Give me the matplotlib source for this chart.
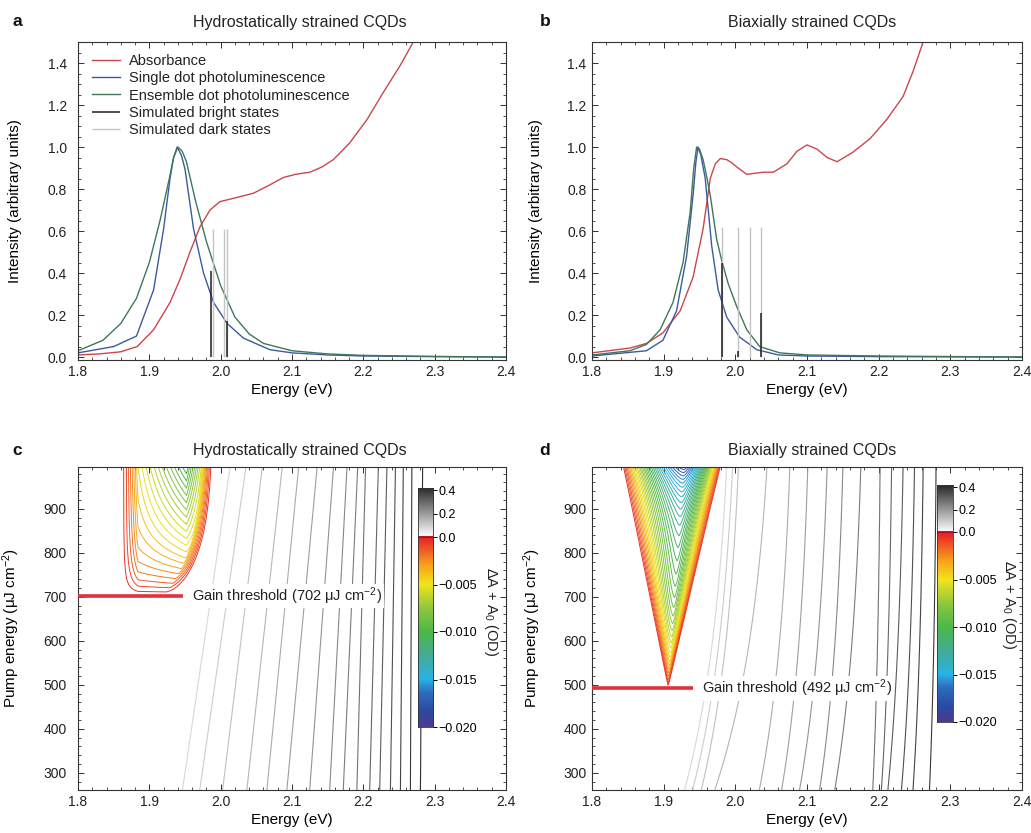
import numpy as np
import matplotlib
matplotlib.use("Agg")
import matplotlib.pyplot as plt
from matplotlib.colors import LinearSegmentedColormap, Normalize
from matplotlib.ticker import MultipleLocator, FormatStrFormatter

plt.rcParams['font.family'] = ['Liberation Sans', 'DejaVu Sans']
plt.rcParams['mathtext.fontset'] = 'custom'
plt.rcParams['mathtext.rm'] = 'Liberation Sans'
plt.rcParams['mathtext.it'] = 'Liberation Sans:italic'
plt.rcParams['axes.linewidth'] = 0.8
plt.rcParams['text.color'] = '#222222'
plt.rcParams['axes.edgecolor'] = '#333333'

# ---------------- panel a: hydrostatically strained spectra
a_abs_E = [1.80, 1.83, 1.86, 1.883, 1.906, 1.929, 1.943, 1.957, 1.971, 1.985, 1.999,
           2.023, 2.046, 2.069, 2.088, 2.105, 2.125, 2.142, 2.158, 2.181, 2.205, 2.228,
           2.252, 2.27]
a_abs = [0.01, 0.015, 0.025, 0.05, 0.13, 0.26, 0.37, 0.50, 0.62, 0.70, 0.74,
         0.76, 0.78, 0.82, 0.855, 0.87, 0.88, 0.905, 0.94, 1.02, 1.13, 1.26,
         1.39, 1.50]

a_single_E = [1.80, 1.85, 1.882, 1.906, 1.92, 1.929, 1.934, 1.939, 1.945, 1.950, 1.962,
              1.976, 1.990, 2.009, 2.032, 2.069, 2.10, 2.15, 2.20, 2.30, 2.40]
a_single = [0.02, 0.05, 0.10, 0.32, 0.61, 0.85, 0.95, 1.0, 0.96, 0.895, 0.61,
            0.40, 0.26, 0.16, 0.09, 0.035, 0.02, 0.01, 0.005, 0.002, 0.0]

a_ens_E = [1.80, 1.835, 1.86, 1.882, 1.90, 1.915, 1.928, 1.934, 1.94, 1.946, 1.952,
           1.965, 1.98, 2.00, 2.02, 2.04, 2.06, 2.10, 2.15, 2.20, 2.30, 2.40]
a_ens = [0.03, 0.08, 0.16, 0.28, 0.45, 0.65, 0.85, 0.95, 1.0, 0.98, 0.93,
         0.74, 0.55, 0.34, 0.19, 0.11, 0.065, 0.03, 0.015, 0.008, 0.003, 0.0]

a_bright_E = [1.987, 2.009]
a_bright_h = [0.41, 0.17]
a_dark_E = [1.989, 2.004, 2.009]
a_dark_h = [0.61, 0.61, 0.61]

# ---------------- panel b: biaxially strained spectra
b_abs_E = [1.80, 1.853, 1.876, 1.899, 1.923, 1.941, 1.955, 1.965, 1.972, 1.979, 1.988,
           1.995, 2.002, 2.016, 2.039, 2.053, 2.072, 2.086, 2.100, 2.114, 2.128, 2.142,
           2.164, 2.188, 2.211, 2.234, 2.248, 2.262]
b_abs = [0.02, 0.043, 0.065, 0.115, 0.22, 0.38, 0.61, 0.85, 0.92, 0.945, 0.94,
         0.925, 0.905, 0.87, 0.88, 0.88, 0.92, 0.98, 1.01, 0.99, 0.95, 0.93,
         0.975, 1.04, 1.13, 1.24, 1.36, 1.50]

b_single_E = [1.80, 1.876, 1.899, 1.918, 1.932, 1.941, 1.945, 1.948, 1.952, 1.958, 1.967,
              1.976, 1.988, 2.006, 2.030, 2.06, 2.10, 2.20, 2.40]
b_single = [0.005, 0.03, 0.08, 0.22, 0.48, 0.77, 0.93, 1.0, 0.96, 0.85, 0.53,
            0.32, 0.19, 0.095, 0.035, 0.01, 0.005, 0.002, 0.0]

b_ens_E = [1.80, 1.853, 1.876, 1.895, 1.913, 1.927, 1.937, 1.942, 1.946, 1.950, 1.955,
           1.960, 1.965, 1.974, 1.981, 1.990, 2.002, 2.016, 2.034, 2.062, 2.10, 2.20, 2.40]
b_ens = [0.01, 0.03, 0.06, 0.13, 0.26, 0.45, 0.69, 0.90, 1.0, 0.99, 0.94,
         0.86, 0.77, 0.56, 0.46, 0.35, 0.24, 0.13, 0.05, 0.02, 0.01, 0.005, 0.0]

b_bright_E = [1.981, 2.004, 2.036]
b_bright_h = [0.45, 0.03, 0.21]
b_dark_E = [1.981, 2.004, 2.020, 2.036]
b_dark_h = [0.62, 0.62, 0.62, 0.62]

# ---------------- panels c, d: pump-dependent absorption maps
# energies where each positive iso-absorbance line crosses low / high pump
iso_levels_c = [0.025 * k for k in range(1, 17)]
c_iso_low = [1.947, 1.971, 2.003, 2.037, 2.065, 2.093, 2.125, 2.153, 2.172, 2.191,
             2.209, 2.223, 2.238, 2.252, 2.266, 2.280]
c_iso_high = [2.013, 2.035, 2.058, 2.086, 2.109, 2.135, 2.158, 2.177, 2.192, 2.203,
              2.221, 2.233, 2.245, 2.256, 2.268, 2.283]

iso_levels_d = [0.025 * k for k in range(1, 16)]
d_iso_low = [1.930, 1.941, 1.953, 1.972, 2.034, 2.065, 2.090, 2.118, 2.139, 2.192,
             2.204, 2.213, 2.232, 2.248, 2.271]
d_iso_high = [1.988, 1.996, 2.004, 2.044, 2.076, 2.101, 2.128, 2.150, 2.175, 2.202,
              2.218, 2.234, 2.250, 2.262, 2.280]

# gain region c: threshold, left edge ramp, right edge (low -> high pump),
# plateau depth and extra peak depth / position / half widths
c_threshold = 702
c_left_ramp = (1.860, 1.884)
c_right = (1.935, 1.992)
c_plateau = 0.003
c_peak_depth = 0.0075
c_peak_E = 1.952
c_peak_halfwidth = (0.085, 0.035)

# gain region d: threshold, V edges (threshold -> top), peak,
# saturating depth plus extra depth reached at the top
d_threshold = 492
d_left = (1.906, 1.843)
d_right = (1.906, 1.979)
d_peak = (1.906, 1.928)
d_depth_sat = 0.012
d_depth_top = 0.006

gain_levels = [-0.0005 * k for k in range(39, 0, -1)]
bar_ticks = [-0.020, -0.015, -0.010, -0.005, 0.0, 0.2, 0.4]
bar_labels = ['\u22120.020', '\u22120.015', '\u22120.010', '\u22120.005', '0.0', '0.2', '0.4']

W, H = 1031, 833
fig = plt.figure(figsize=(W / 100, H / 100), dpi=100)


def box(x0, y0, x1, y1):
    return [x0 / W, 1 - y1 / H, (x1 - x0) / W, (y1 - y0) / H]


ax_a = fig.add_axes(box(78, 42, 506, 360))
ax_b = fig.add_axes(box(592, 42, 1022, 360))
ax_c = fig.add_axes(box(78, 467, 506, 790))
ax_d = fig.add_axes(box(592, 467, 1022, 790))

rainbow = LinearSegmentedColormap.from_list('gain', [
    (0.0, '#4b3990'), (0.08, '#2c4aa0'), (0.18, '#2f6cc0'), (0.25, '#27b4e6'),
    (0.38, '#45ab90'), (0.5, '#4db848'), (0.62, '#8dc63f'), (0.75, '#f0e51a'),
    (0.85, '#f7a21b'), (0.93, '#f15a24'), (1.0, '#e61e2a')])
greys = LinearSegmentedColormap.from_list('grey', ['#ffffff', '#111111'])
gain_norm = Normalize(-0.02, 0.0)


def style(ax, ymajor, yminor, yfmt, pad):
    ax.set_xlim(1.8, 2.4)
    ax.xaxis.set_major_locator(MultipleLocator(0.1))
    ax.xaxis.set_minor_locator(MultipleLocator(0.02))
    ax.xaxis.set_major_formatter(FormatStrFormatter('%.1f'))
    ax.yaxis.set_major_locator(MultipleLocator(ymajor))
    ax.yaxis.set_minor_locator(MultipleLocator(yminor))
    ax.yaxis.set_major_formatter(FormatStrFormatter(yfmt))
    ax.tick_params(which='both', direction='in', top=True, right=True, labelsize=10,
                   colors='#333333', labelcolor='#222222')
    ax.tick_params(axis='y', pad=pad)
    ax.tick_params(which='major', length=4.5, width=0.7)
    ax.tick_params(which='minor', length=2.2, width=0.6)
    ax.set_xlabel('Energy (eV)', fontsize=11, labelpad=3)


# ---------------- spectra
def spectra(ax, absE, absV, sE, sV, eE, eV, brE, brH, dkE, dkH, pad):
    ax.plot(absE, absV, color='#c9474d', lw=1.0, label='Absorbance')
    ax.plot(sE, sV, color='#3d5a9e', lw=1.0, label='Single dot photoluminescence')
    ax.plot(eE, eV, color='#3f7759', lw=1.0, label='Ensemble dot photoluminescence')
    ax.vlines(dkE, 0, dkH, colors='#c4c4c4', lw=1.0, label='Simulated dark states')
    ax.vlines(brE, 0, brH, colors='#1e1e1e', lw=1.1, label='Simulated bright states')
    ax.set_ylim(-0.014, 1.5)
    style(ax, 0.2, 0.05, '%.1f', pad)
    ax.set_ylabel('Intensity (arbitrary units)', fontsize=11)


spectra(ax_a, a_abs_E, a_abs, a_single_E, a_single, a_ens_E, a_ens,
        a_bright_E, a_bright_h, a_dark_E, a_dark_h, 8)
spectra(ax_b, b_abs_E, b_abs, b_single_E, b_single, b_ens_E, b_ens,
        b_bright_E, b_bright_h, b_dark_E, b_dark_h, 4)
ax_a.yaxis.set_label_coords(-0.13, 0.5)
ax_b.yaxis.set_label_coords(-0.114, 0.5)

h, l = ax_a.get_legend_handles_labels()
order = [0, 1, 2, 4, 3]
ax_a.legend([h[i] for i in order], [l[i] for i in order], loc='upper left',
            bbox_to_anchor=(0.033, 0.962), frameon=False, fontsize=10.5,
            handlelength=1.9, handletextpad=0.6, labelspacing=0.22,
            borderaxespad=0, borderpad=0)

# ---------------- maps
energy = np.linspace(1.8, 2.4, 901)
pump = np.linspace(261, 995, 500)
EE, PP = np.meshgrid(energy, pump)
P_LO, P_HI = 265.0, 990.0


def iso_field(low, high, levels, sat):
    low, high = np.asarray(low), np.asarray(high)
    t = (pump - P_LO) / (P_HI - P_LO)
    if sat:
        t = (1 - np.exp(-t / sat)) / (1 - np.exp(-1 / sat))
    Z = np.empty((len(pump), len(energy)))
    for i, tt in enumerate(t):
        xs = low + (high - low) * tt
        Z[i] = np.interp(energy, np.r_[1.7, xs, 2.5], np.r_[0.0, levels, levels[-1] + 0.2])
    return Z


def gain_c():
    dp = np.clip(PP - c_threshold, 0, None)
    t = dp / (995 - c_threshold)
    on = (PP > c_threshold).astype(float)
    rgt = c_right[0] + (c_right[1] - c_right[0]) * (1 - np.exp(-t / 0.35))
    win_l = np.clip((EE - c_left_ramp[0]) / (c_left_ramp[1] - c_left_ramp[0]), 0, 1)
    win_r = np.clip((rgt - EE) / 0.016, 0, 1)
    win = win_l * win_r * on
    wl, wr = c_peak_halfwidth
    tent = np.where(EE < c_peak_E, 1 - (c_peak_E - EE) / wl, 1 - (EE - c_peak_E) / wr)
    tent = np.clip(tent, 0, None)
    depth = c_plateau * (1 - np.exp(-dp / 60)) + c_peak_depth * t ** 1.2 * tent
    return -win * depth


def gain_d():
    dp = np.clip(PP - d_threshold, 0, None)
    t = dp / (990 - d_threshold)
    lft = d_left[0] + (d_left[1] - d_left[0]) * t
    rgt = d_right[0] + (d_right[1] - d_right[0]) * t
    pk = d_peak[0] + (d_peak[1] - d_peak[0]) * t
    with np.errstate(divide='ignore', invalid='ignore'):
        u = np.where(EE < pk, (pk - EE) / (pk - lft), (EE - pk) / (rgt - pk))
    u = np.nan_to_num(u, nan=2.0, posinf=2.0, neginf=2.0)
    f = np.clip(1 - np.abs(u) ** 1.5, 0, None)
    depth = d_depth_sat * (1 - np.exp(-dp / 150)) + d_depth_top * t ** 6
    return -depth * f


def pump_map(ax, iso_lo, iso_hi, levels, sat, Zg, p_th, line_end, pad):
    Zp = iso_field(iso_lo, iso_hi, levels, sat)
    ax.contour(energy, pump, Zp, levels=levels,
               colors=[greys(0.12 + 0.76 * v / 0.4) for v in levels], linewidths=0.8)
    ax.contour(energy, pump, Zg, levels=gain_levels,
               colors=[rainbow(gain_norm(v)) for v in gain_levels], linewidths=0.7)
    ax.plot([1.8, line_end], [p_th, p_th], color='#e2313d', lw=2.6,
            solid_capstyle='butt', zorder=5)
    ax.text(line_end + 0.013, p_th, 'Gain threshold (%d \u03bcJ cm$^{-2}$)' % p_th,
            va='center', ha='left', fontsize=10.5, zorder=6,
            bbox=dict(facecolor='white', edgecolor='none', pad=1.2))
    ax.set_ylim(261, 995)
    style(ax, 100, 20, '%d', pad)
    ax.set_ylabel('Pump energy (\u03bcJ cm$^{-2}$)', fontsize=11)


pump_map(ax_c, c_iso_low, c_iso_high, iso_levels_c, None, gain_c(), c_threshold, 1.947, 8)
pump_map(ax_d, d_iso_low, d_iso_high, iso_levels_d, 0.6, gain_d(), d_threshold, 1.941, 4)
ax_c.yaxis.set_label_coords(-0.13, 0.5)
ax_d.yaxis.set_label_coords(-0.114, 0.5)


def add_bar(x0, y0, x1, y1, y_zero, lab_x, lab_y):
    cax = fig.add_axes(box(x0, y0, x1, y1))
    f = (y1 - y_zero) / (y1 - y0)
    y = np.linspace(0, 1, 500)
    lower = rainbow(np.clip(y / f, 0, 1))[:, :3]
    upper = greys(np.clip((y - f) / (1 - f), 0, 1) * 0.9)[:, :3]
    rgb = np.where((y < f)[:, None], lower, upper)
    cax.imshow(rgb[:, None, :], extent=[0, 1, 0, 1], origin='lower', aspect='auto')
    cax.axhline(f, color='#a81010', lw=1.3)
    pos = [f * (v + 0.02) / 0.02 if v <= 0 else f + (1 - f) * v / 0.42 for v in bar_ticks]
    cax.set_xticks([])
    cax.yaxis.tick_right()
    cax.set_yticks(pos)
    cax.set_yticklabels(bar_labels)
    cax.set_ylim(0, 1)
    cax.tick_params(axis='y', direction='out', length=3, width=0.7, labelsize=9, pad=1)
    for s in cax.spines.values():
        s.set_linewidth(0.6)
    fig.text(lab_x / W, 1 - lab_y / H, '\u0394A + A$_0$ (OD)', rotation=270,
             ha='center', va='center', fontsize=10.5)


add_bar(418, 488, 433, 727, 537, 491, 612)
add_bar(937, 485, 953, 722, 532, 1009, 605)

# ---------------- titles and panel letters
for x, y, s in [(300, 22, 'Hydrostatically strained CQDs'),
                (812, 22, 'Biaxially strained CQDs'),
                (300, 451, 'Hydrostatically strained CQDs'),
                (812, 451, 'Biaxially strained CQDs')]:
    fig.text(x / W, 1 - y / H, s, ha='center', va='center', fontsize=11.5)
for x, y, s in [(17, 22, 'a'), (545, 22, 'b'), (17, 451, 'c'), (545, 451, 'd')]:
    fig.text(x / W, 1 - y / H, s, ha='center', va='center', fontsize=12.5,
             fontweight='bold', color='#111111')

fig.savefig('out.png', dpi=100)
